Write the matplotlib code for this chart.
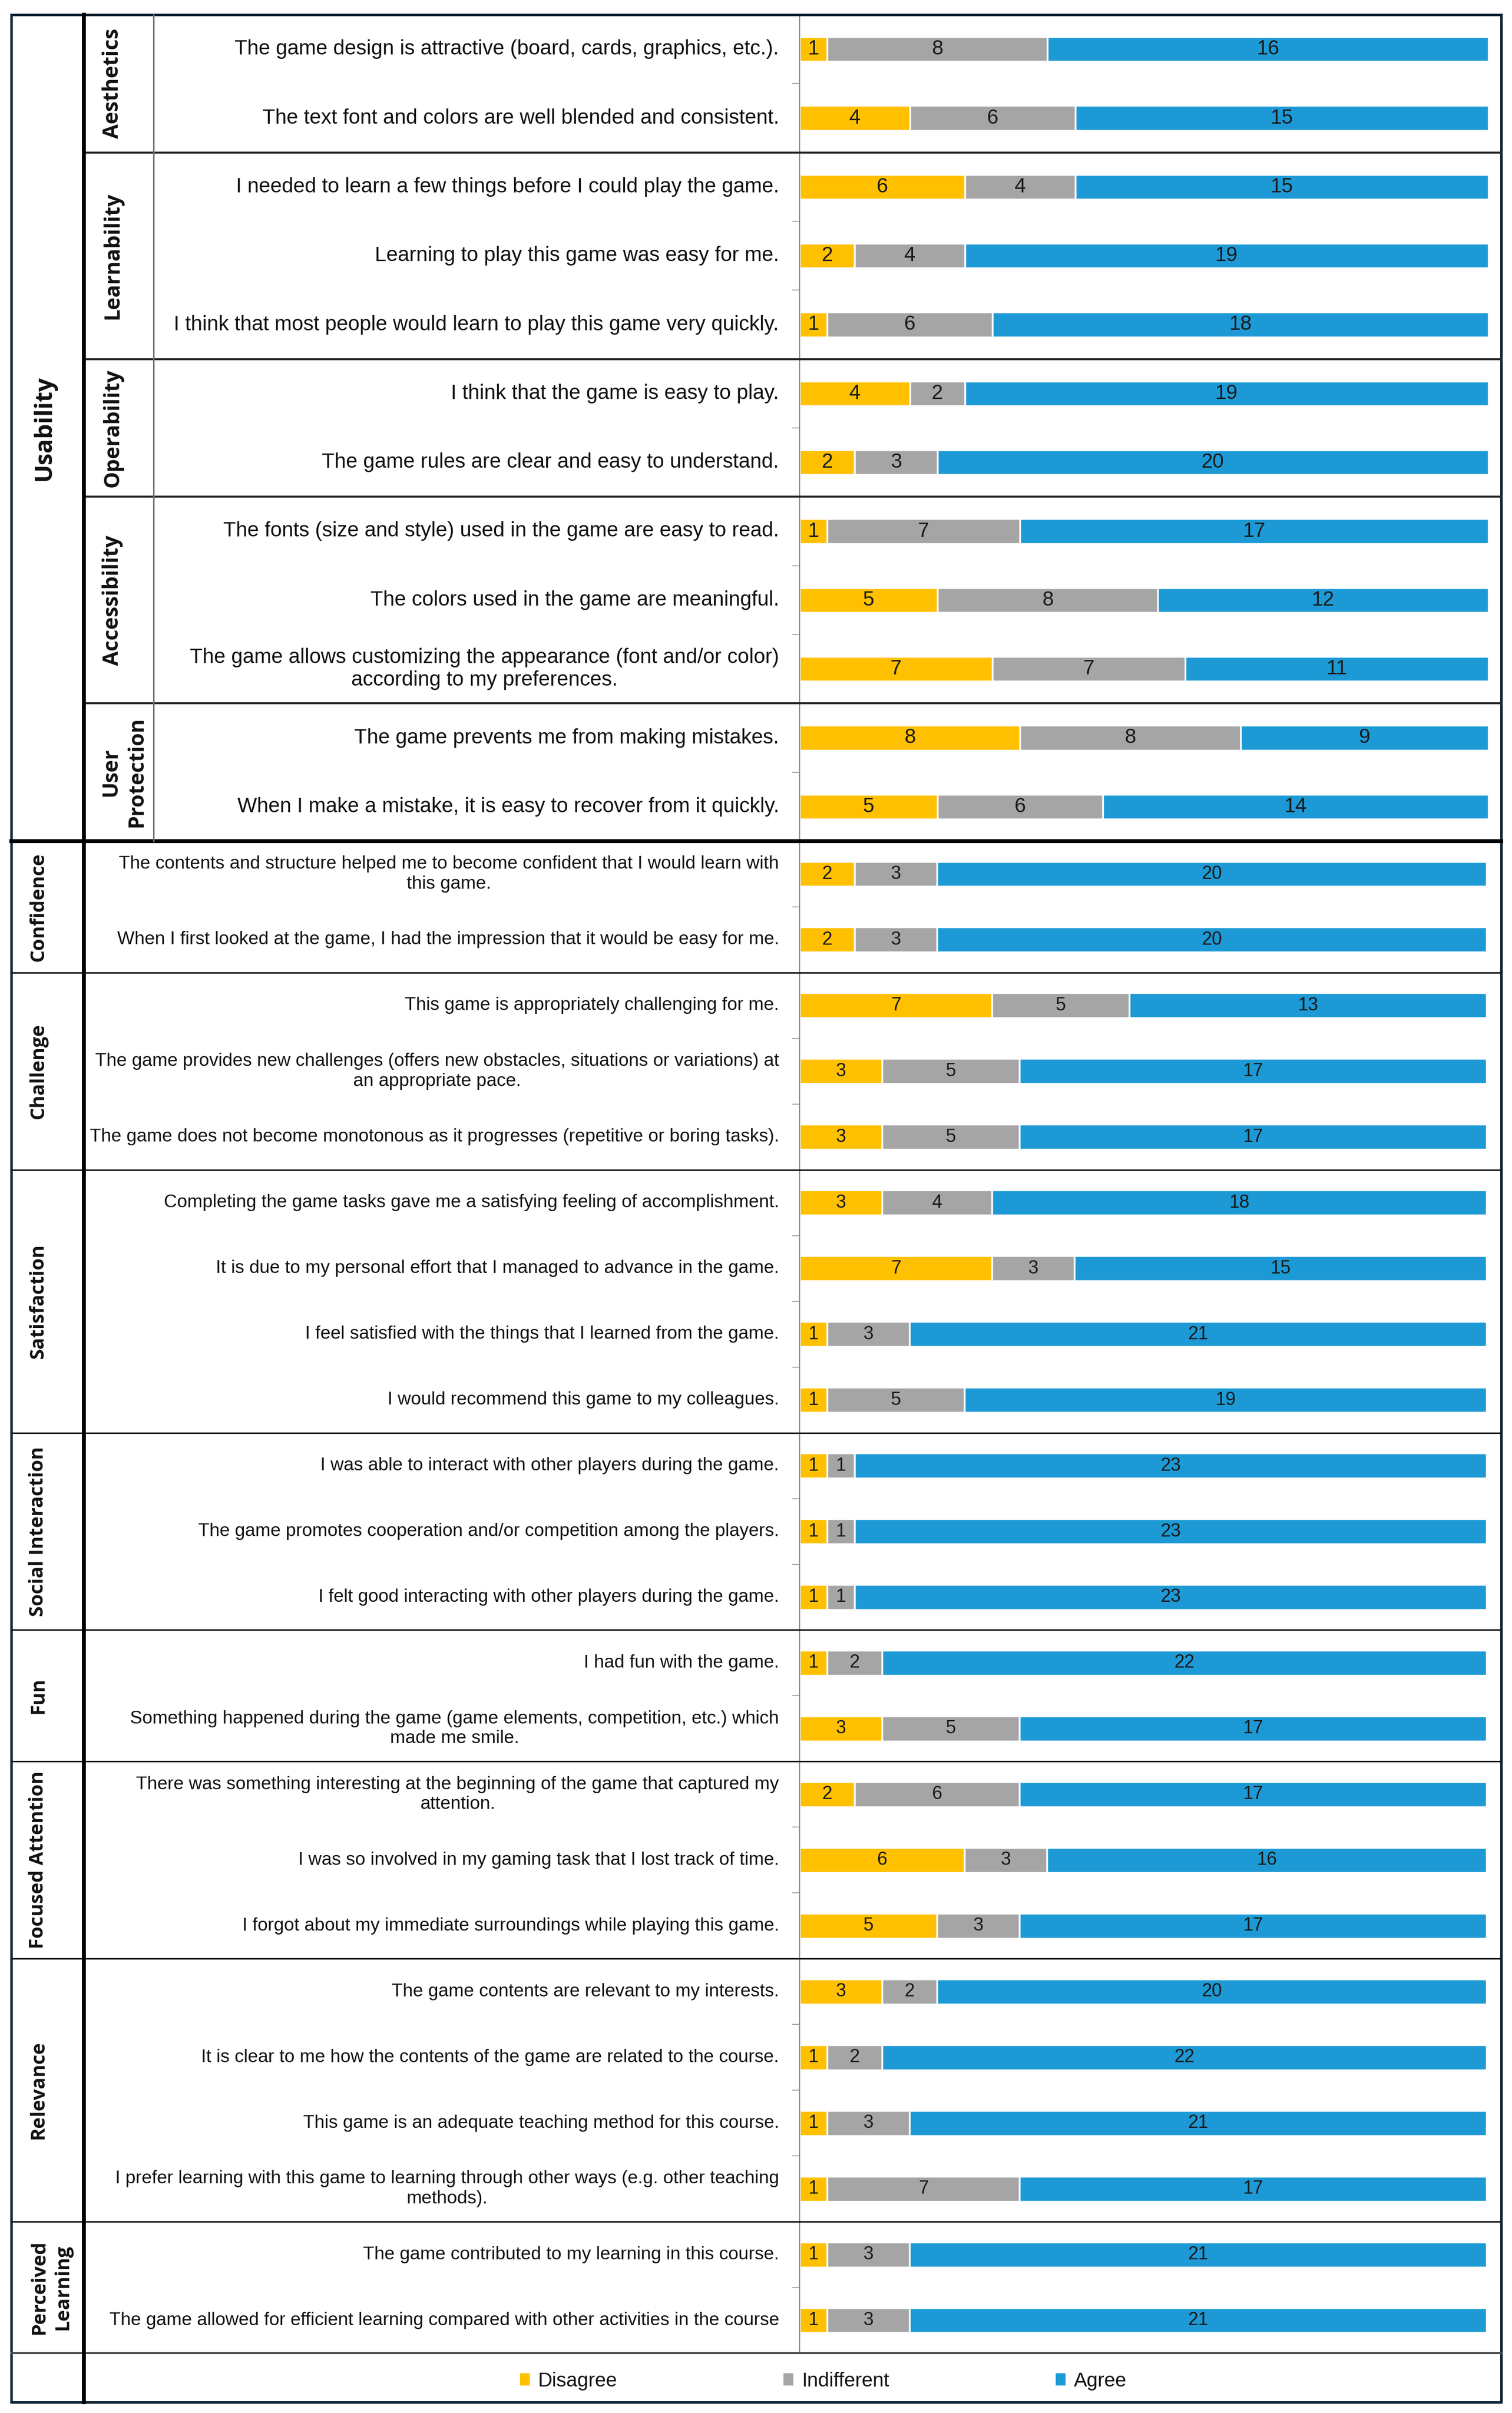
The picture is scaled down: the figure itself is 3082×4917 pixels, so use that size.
import numpy as np
import matplotlib
matplotlib.use("Agg")
import matplotlib.pyplot as plt
import matplotlib.transforms as mtransforms
from matplotlib.lines import Line2D
from matplotlib.patches import Rectangle, Patch

plt.rcParams['font.family'] = ['Liberation Sans', 'DejaVu Sans']

# ---- data -------------------------------------------------------------
usab_groups = ["Aesthetics", "Learnability", "Operability", "Accessibility", "User\nProtection"]
usab_sizes = [2, 3, 2, 3, 2]
usab_items = [
    "The game design is attractive (board, cards, graphics, etc.).",
    "The text font and colors are well blended and consistent.",
    "I needed to learn a few things before I could play the game.",
    "Learning to play this game was easy for me.",
    "I think that most people would learn to play this game very quickly.",
    "I think that the game is easy to play.",
    "The game rules are clear and easy to understand.",
    "The fonts (size and style) used in the game are easy to read.",
    "The colors used in the game are meaningful.",
    "The game allows customizing the appearance (font and/or color)\naccording to my preferences.",
    "The game prevents me from making mistakes.",
    "When I make a mistake, it is easy to recover from it quickly.",
]
usab_disagree = [1, 4, 6, 2, 1, 4, 2, 1, 5, 7, 8, 5]
usab_indiff = [8, 6, 4, 4, 6, 2, 3, 7, 8, 7, 8, 6]
usab_agree = [16, 15, 15, 19, 18, 19, 20, 17, 12, 11, 9, 14]

other_groups = ["Confidence", "Challenge", "Satisfaction", "Social Interaction", "Fun",
                "Focused Attention", "Relevance", "Perceived\nLearning"]
other_sizes = [2, 3, 4, 3, 2, 3, 4, 2]
other_items = [
    "The contents and structure helped me to become confident that I would learn with\nthis game.",
    "When I first looked at the game, I had the impression that it would be easy for me.",
    "This game is appropriately challenging for me.",
    "The game provides new challenges (offers new obstacles, situations or variations) at\nan appropriate pace.",
    "The game does not become monotonous as it progresses (repetitive or boring tasks).",
    "Completing the game tasks gave me a satisfying feeling of accomplishment.",
    "It is due to my personal effort that I managed to advance in the game.",
    "I feel satisfied with the things that I learned from the game.",
    "I would recommend this game to my colleagues.",
    "I was able to interact with other players during the game.",
    "The game promotes cooperation and/or competition among the players.",
    "I felt good interacting with other players during the game.",
    "I had fun with the game.",
    "Something happened during the game (game elements, competition, etc.) which\nmade me smile.",
    "There was something interesting at the beginning of the game that captured my\nattention.",
    "I was so involved in my gaming task that I lost track of time.",
    "I forgot about my immediate surroundings while playing this game.",
    "The game contents are relevant to my interests.",
    "It is clear to me how the contents of the game are related to the course.",
    "This game is an adequate teaching method for this course.",
    "I prefer learning with this game to learning through other ways (e.g. other teaching\nmethods).",
    "The game contributed to my learning in this course.",
    "The game allowed for efficient learning compared with other activities in the course",
]
other_disagree = [2, 2, 7, 3, 3, 3, 7, 1, 1, 1, 1, 1, 1, 3, 2, 6, 5, 3, 1, 1, 1, 1, 1]
other_indiff = [3, 3, 5, 5, 5, 4, 3, 3, 5, 1, 1, 1, 2, 5, 6, 3, 3, 2, 2, 3, 7, 3, 3]
other_agree = [20, 20, 13, 17, 17, 18, 15, 21, 19, 23, 23, 23, 22, 17, 17, 16, 17, 20, 22, 21, 17, 21, 21]

legend_labels = ["Disagree", "Indifferent", "Agree"]
colors = ["#FFC000", "#A5A5A5", "#1D9AD6"]

# ---- layout (pixels) --------------------------------------------------
W, H = 3082, 4917
FL, FR, FT, FB = 23, 3060, 30, 4895   # outer frame
AX_X = 1630                           # bar axis line
SPLIT = 1714                          # usability / rest
CH_B = 4795                           # bottom of chart rows
PX = 0.72                             # px -> pt at 100 dpi


def fx(x):
    return x / W


def fy(y):
    return 1 - y / H


fig = plt.figure(figsize=(W / 100, H / 100), dpi=100)

ax_top = fig.add_axes([fx(AX_X), fy(SPLIT), fx(FR) - fx(AX_X), fy(FT) - fy(SPLIT)])
ax_bot = fig.add_axes([fx(AX_X), fy(CH_B), fx(FR) - fx(AX_X), fy(SPLIT) - fy(CH_B)])


def draw_block(ax, items, d, i, a, bar_h, txt_size, num_size, bar_px):
    n = len(items)
    y = np.arange(n)
    left = np.zeros(n)
    for vals, col in zip([d, i, a], colors):
        c = ax.barh(y, vals, left=left, height=bar_h, color=col,
                    edgecolor="white", linewidth=2.5)
        ax.bar_label(c, label_type="center", fontsize=num_size, color="#1a1a1a")
        left = left + np.array(vals)
    width_px = FR - AX_X
    ax.set_xlim(0, 25 * width_px / bar_px)
    ax.set_ylim(n - 0.5, -0.5)
    for s in ["top", "right", "bottom"]:
        ax.spines[s].set_visible(False)
    ax.spines["left"].set_color("#8c8c8c")
    ax.spines["left"].set_linewidth(2 * PX)
    ax.set_xticks([])
    ax.set_yticks(np.arange(0.5, n - 1), labels=[])
    ax.tick_params(axis="y", length=15 * PX, width=2 * PX, color="#a6a6a6", direction="out")
    ax.patch.set_alpha(0)
    for k, t in enumerate(items):
        ax.text(-42 / width_px, k, t, transform=ax.get_yaxis_transform(),
                ha="right", va="center", multialignment="center",
                fontsize=txt_size, color="#111111")


draw_block(ax_top, usab_items, usab_disagree, usab_indiff, usab_agree,
           0.36, 30.3, 30, 1404)
draw_block(ax_bot, other_items, other_disagree, other_indiff, other_agree,
           0.38, 26.8, 27, 1400)

bold = dict(family=["Open Sans", "DejaVu Sans"], weight="bold", color="#111111",
            rotation=90, ha="center", va="center", rotation_mode="anchor")


def hline(ax, yv, x0, x1, lw, color):
    tr = mtransforms.blended_transform_factory(fig.transFigure, ax.transData)
    fig.add_artist(Line2D([fx(x0), fx(x1)], [yv, yv], transform=tr, lw=lw * PX, color=color))


# usability block: main label, sub labels, sub lines
tr_top = mtransforms.blended_transform_factory(fig.transFigure, ax_top.transData)
fig.text(fx(90), (len(usab_items) - 1) / 2, "Usability", transform=tr_top, fontsize=35, **bold)
start = 0
for g, s in zip(usab_groups, usab_sizes):
    xc = 252 if "\n" in g else 230
    fig.text(fx(xc), start + (s - 1) / 2, g, transform=tr_top, fontsize=31,
             linespacing=1.3, **bold)
    if start > 0:
        hline(ax_top, start - 0.5, 177, FR, 4, "#2b2b2b")
    start += s

# other categories
tr_bot = mtransforms.blended_transform_factory(fig.transFigure, ax_bot.transData)
start = 0
for g, s in zip(other_groups, other_sizes):
    xc = 104 if "\n" in g else 78
    fig.text(fx(xc), start + (s - 1) / 2, g, transform=tr_bot, fontsize=28.5,
             linespacing=1.3, **bold)
    if start > 0:
        hline(ax_bot, start - 0.5, FL, FR, 3, "#111111")
    start += s

# structural lines
hline(ax_top, len(usab_items) - 0.5, FL, FR, 8, "black")
hline(ax_bot, len(other_items) - 0.5, FL, FR, 4, "#4a4a4a")
fig.add_artist(Line2D([fx(171), fx(171)], [fy(FT), fy(FB)], lw=8 * PX, color="black"))
fig.add_artist(Line2D([fx(313), fx(313)], [fy(FT), fy(SPLIT)], lw=3 * PX, color="#6e6e6e"))
fig.add_artist(Rectangle((fx(FL), fy(FB)), fx(FR) - fx(FL), fy(FT) - fy(FB),
                         transform=fig.transFigure, fill=False, ec="#0b2233", lw=5 * PX))

# legend
handles = [Patch(facecolor=c, edgecolor="none") for c in colors]
fs = 29
em = fs / PX
fig.legend(handles, legend_labels, loc="center", bbox_to_anchor=(fx(1678), fy(4852)),
           ncol=3, frameon=False, fontsize=fs, handlelength=20 / em, handleheight=23 / em,
           handletextpad=17 / em, columnspacing=339 / em, labelcolor="#111111")

fig.savefig("out.png", dpi=100, facecolor="white")
